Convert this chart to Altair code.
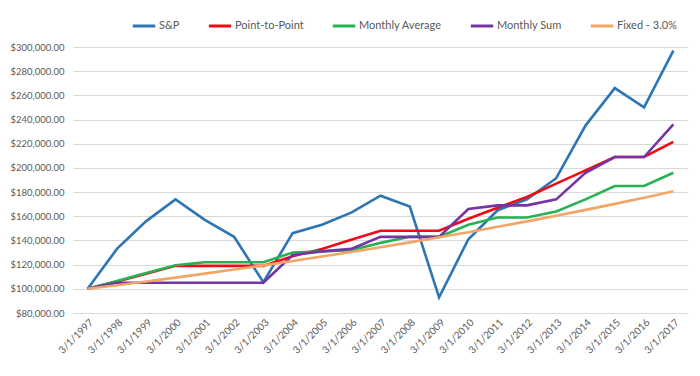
import altair as alt
import pandas as pd

dates = ["3/1/1997", "3/1/1998", "3/1/1999", "3/1/2000", "3/1/2001", "3/1/2002",
         "3/1/2003", "3/1/2004", "3/1/2005", "3/1/2006", "3/1/2007", "3/1/2008",
         "3/1/2009", "3/1/2010", "3/1/2011", "3/1/2012", "3/1/2013", "3/1/2014",
         "3/1/2015", "3/1/2016", "3/1/2017"]

sp = [100000, 133000, 156000, 174000, 157000, 143000, 105500, 146000, 153000, 163000,
      177000, 168000, 93000, 141000, 165000, 174000, 191500, 235000, 266000, 250000, 297000]
point_to_point = [100000, 106000, 112500, 119000, 119000, 119000, 119000, 127000, 133000,
                  140500, 148000, 148000, 148000, 158000, 167000, 176000, 187000, 198000,
                  209000, 209000, 221500]
monthly_average = [100000, 106500, 113000, 119500, 122000, 122000, 122000, 130000, 131000,
                   132000, 138000, 143000, 143000, 153000, 159000, 159000, 164000, 174000,
                   185000, 185000, 196000]
monthly_sum = [100000, 105000, 105000, 105000, 105000, 105000, 105000, 128000, 131000,
               133000, 143000, 143000, 143000, 166000, 169000, 169000, 174000, 196000,
               209000, 209000, 236000]
fixed_3 = [100000, 103000, 106090, 109273, 112551, 115927, 119405, 122987, 126677, 130477,
           134392, 138423, 142576, 146853, 151259, 155797, 160471, 165285, 170243, 175351,
           180611]

series_names = ["S&P", "Point-to-Point", "Monthly Average", "Monthly Sum", "Fixed - 3.0%"]
series_values = [sp, point_to_point, monthly_average, monthly_sum, fixed_3]
series_colors = ["#2E75B6", "#F00A14", "#27B152", "#7434A4", "#F2A564"]

rows = []
for name, vals in zip(series_names, series_values):
    for d, v in zip(dates, vals):
        rows.append({"date": d, "series": name, "value": v})
df = pd.DataFrame(rows)

font = "Lato"
grey = "#595959"

chart = alt.Chart(df).mark_line(strokeWidth=2.6, strokeJoin="miter").encode(
    x=alt.X("date:N", sort=dates, title=None,
            scale=alt.Scale(type="point", padding=0.5),
            axis=alt.Axis(labelAngle=-45, labelAlign="right", labelBaseline="top",
                          labelFontSize=10, labelColor=grey, labelFont=font,
                          ticks=False, domain=False, grid=False, labelPadding=4)),
    y=alt.Y("value:Q", title=None,
            scale=alt.Scale(domain=[80000, 300000], nice=False, zero=False),
            axis=alt.Axis(values=list(range(80000, 300001, 20000)), format="$,.2f",
                          labelFontSize=9.5, labelColor=grey, labelFont=font,
                          ticks=False, domain=False, gridColor="#D9D9D9", gridWidth=1,
                          labelPadding=9)),
    color=alt.Color("series:N", sort=series_names,
                    scale=alt.Scale(domain=series_names, range=series_colors),
                    legend=alt.Legend(title=None, orient="none", direction="horizontal",
                                      legendX=58, legendY=-34,
                                      symbolType="stroke", symbolStrokeWidth=3,
                                      symbolSize=500, labelFontSize=11, labelColor=grey,
                                      labelFont=font, columnPadding=22, labelOffset=2)),
    detail="series:N",
).properties(
    width=615, height=266,
    autosize=alt.AutoSizeParams(type="none"),
    padding={"left": 65, "top": 39, "right": 4, "bottom": 55},
).configure_view(stroke=None)

chart.save("out.html", embed_options={"renderer": "svg", "actions": False})
